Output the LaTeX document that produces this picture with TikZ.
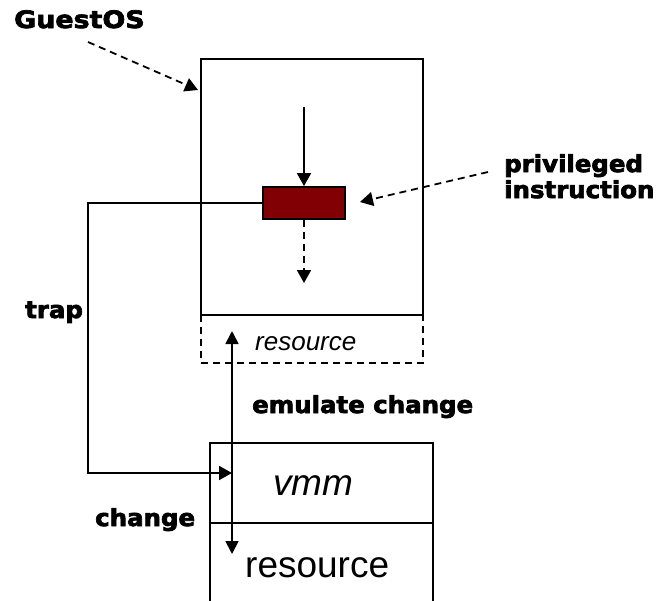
\documentclass[tikz,border=0pt]{standalone}
\usepackage{fontspec}
\setmainfont{Liberation Sans}
\newfontfamily\heavy{DejaVu Sans Bold}[FakeStretch=1.04, FakeBold=3]
\newfontfamily\heavywide{DejaVu Sans Bold}[FakeStretch=1.12, FakeBold=3]
\usetikzlibrary{arrows.meta}
\definecolor{maroonfill}{RGB}{128,0,4}
\tikzset{
  boxline/.style={draw, line width=2.2pt, inner sep=0pt},
  tipline/.style={line width=1.8pt, -{Triangle[length=13pt, width=14pt]}},
  dashtip/.style={tipline, dash pattern=on 7pt off 5pt},
  bothtips/.style={line width=1.8pt, {Triangle[length=13pt, width=13pt]}-{Triangle[length=13pt, width=13pt]}},
  heavylabel/.style={font=\heavy\fontsize{23.5}{26}\selectfont, inner sep=0pt, anchor=base west},
}
\begin{document}
\begin{tikzpicture}[x=1pt, y=-1pt]
  \useasboundingbox (0,0) rectangle (663,600);

  % guest resource (dashed) and guest OS box
  \node[draw, line width=1.8pt, dash pattern=on 7pt off 5pt, minimum width=222pt, minimum height=48pt, inner sep=0pt] (gres) at (312,339) {};
  \node[boxline, minimum width=222pt, minimum height=256pt] (guest) at (312,187) {};
  \node[inner sep=0pt, anchor=base west, font=\itshape\fontsize{26}{30}\selectfont] (gresl) at (255,350) {resource};

  % privileged instruction block
  \node[draw, line width=1.8pt, fill=maroonfill, minimum width=82pt, minimum height=32pt, inner sep=0pt] (priv) at (304,203) {};

  % vmm and host resource boxes
  \node[boxline, minimum width=223pt, minimum height=80pt] (vmm) at (321.5,483) {};
  \node[boxline, minimum width=223pt, minimum height=100pt] (hres) at (321.5,573) {};
  \node[inner sep=0pt, anchor=base west, font=\itshape\fontsize{37}{40}\selectfont] (vmml) at (273,495) {vmm};
  \node[inner sep=0pt, anchor=base west, font=\fontsize{37}{40}\selectfont] (hresl) at (245,577) {resource};

  % labels
  \node[heavylabel, font=\heavywide\fontsize{24}{26}\selectfont] (guestl) at (14,28) {GuestOS};
  \node[heavylabel, anchor=north west, align=left] (privl) at (504,154) {privileged\\instruction};
  \node[heavylabel] (trapl) at (25,318) {trap};
  \node[heavylabel] (emul) at (252,413) {emulate change};
  \node[heavylabel] (chgl) at (95,526) {change};

  % connector end points
  \coordinate (gsrc) at (88,42);
  \coordinate (gtip) at (198,90);
  \coordinate (psrc) at (488,172);
  \coordinate (ptip) at (360,202);
  \coordinate (flowtop) at (304,107);
  \coordinate (flowend) at (304,283);
  \coordinate (trapturn) at (88,473);
  \coordinate (traptip) at (232,473);
  \coordinate (chtop) at (232,331);
  \coordinate (chbot) at (232,554);

  % connectors
  \draw[dashtip] (gsrc) -- (gtip);
  \draw[dashtip] (psrc) -- (ptip);
  \draw[tipline] (flowtop) -- (priv.north);
  \draw[dashtip] (priv.south) -- (flowend);
  \draw[tipline] (priv.west) -| (trapturn) -- (traptip);
  \draw[bothtips] (chtop) -- (chbot);
\end{tikzpicture}
\end{document}
